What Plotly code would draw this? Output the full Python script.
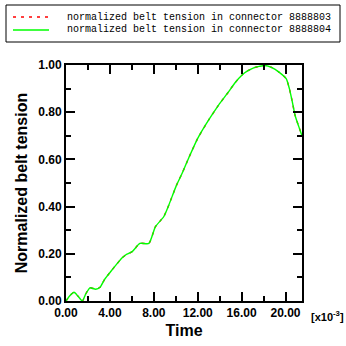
import plotly.graph_objects as go

# Time in units of 1e-3
time = [0.0, 0.35, 0.73, 1.1, 1.49, 1.8, 2.18, 2.7, 3.1, 3.52, 4.06, 4.6, 5.12, 5.43, 6.03, 6.73,
        7.55, 8.15, 8.9, 9.37, 10.06, 10.58, 11.18, 12.0, 13.0, 13.9, 14.82, 15.4, 16.04, 16.5,
        17.1, 17.6, 18.1, 18.76, 19.4, 20.06, 20.35, 20.58, 20.88, 21.2, 21.5]
tension_803 = [0.0, 0.022, 0.037, 0.02, 0.0, 0.03, 0.056, 0.05, 0.058, 0.092, 0.124, 0.155, 0.183,
               0.195, 0.209, 0.244, 0.244, 0.315, 0.357, 0.407, 0.49, 0.541, 0.606, 0.689, 0.767,
               0.83, 0.887, 0.925, 0.958, 0.974, 0.988, 0.994, 0.998, 0.989, 0.97, 0.942, 0.9,
               0.852, 0.785, 0.74, 0.7]
tension_804 = list(tension_803)

names = ["normalized belt tension in connector 8888803",
         "normalized belt tension in connector 8888804"]
colors = ["#ff0000", "#00ff00"]
dashes = ["3px,5px", "solid"]

x_ticks = [0, 4, 8, 12, 16, 20]
x_labels = ["0.00", "4.00", "8.00", "12.00", "16.00", "20.00"]
y_ticks = [0, 0.2, 0.4, 0.6, 0.8, 1.0]
y_labels = ["0.00", "0.20", "0.40", "0.60", "0.80", "1.00"]

fig = go.Figure()
for vals, nm, c, d in zip([tension_803, tension_804], names, colors, dashes):
    fig.add_trace(go.Scatter(x=time, y=vals, mode="lines", name=nm,
                             line=dict(color=c, width=1.4, dash=d, shape="spline", smoothing=0.6),
                             showlegend=False))

axis_common = dict(showgrid=False, zeroline=False, showline=True, linecolor="black", linewidth=2,
                   mirror="ticks", ticks="inside", ticklen=9, tickwidth=1.5, tickcolor="black",
                   automargin=False,
                   tickfont=dict(family="Liberation Sans", size=12, color="black", weight="bold"))

fig.update_xaxes(range=[0, 21.5], tickvals=x_ticks, ticktext=x_labels,
                 minor=dict(ticks="inside", ticklen=5, tickwidth=1.5, tickcolor="black", dtick=2, tick0=0),
                 title=dict(text="Time", font=dict(family="Liberation Sans", size=16, color="black", weight="bold"),
                            standoff=5),
                 **axis_common)
fig.update_yaxes(range=[0, 1.0], tickvals=y_ticks, ticktext=y_labels,
                 minor=dict(ticks="inside", ticklen=5, tickwidth=1.5, tickcolor="black", dtick=0.1, tick0=0),
                 title=dict(text="Normalized belt tension",
                            font=dict(family="Liberation Sans", size=16, color="black", weight="bold"),
                            standoff=7),
                 **axis_common)

fig.add_annotation(text="[x10<sup>-3</sup>]", xref="paper", yref="paper", x=1.03, y=-0.065,
                   xanchor="left", yanchor="middle", showarrow=False,
                   font=dict(family="Liberation Sans", size=11, color="black", weight="bold"))

# Legend (box, sample lines, labels) in paper coordinates
L, R, T, B = 66, 302, 65, 301
px = lambda v: (v - L) / (R - L)
py = lambda v: (B - v) / (B - T)
fig.add_shape(type="rect", xref="paper", yref="paper", x0=px(6), x1=px(340), y0=py(42), y1=py(5),
              line=dict(color="black", width=1), fillcolor="white")
for i, (nm, c, d) in enumerate(zip(names, colors, dashes)):
    yy = 17 + 13 * i
    fig.add_shape(type="line", xref="paper", yref="paper", x0=px(13), x1=px(49), y0=py(yy), y1=py(yy),
                  line=dict(color=c, width=1.6, dash=d))
    fig.add_annotation(text=nm, xref="paper", yref="paper", x=px(65), y=py(yy),
                       xanchor="left", yanchor="middle", showarrow=False,
                       font=dict(family="Liberation Mono", size=10, color="black"))

fig.update_layout(
    width=346, height=346,
    margin=dict(l=66, r=44, t=65, b=45, autoexpand=False),
    plot_bgcolor="white", paper_bgcolor="white",
    showlegend=False,
)

fig.write_html("out.html", config={"displayModeBar": False},
               post_script="document.body.style.margin='0';document.body.style.overflow='hidden';")
